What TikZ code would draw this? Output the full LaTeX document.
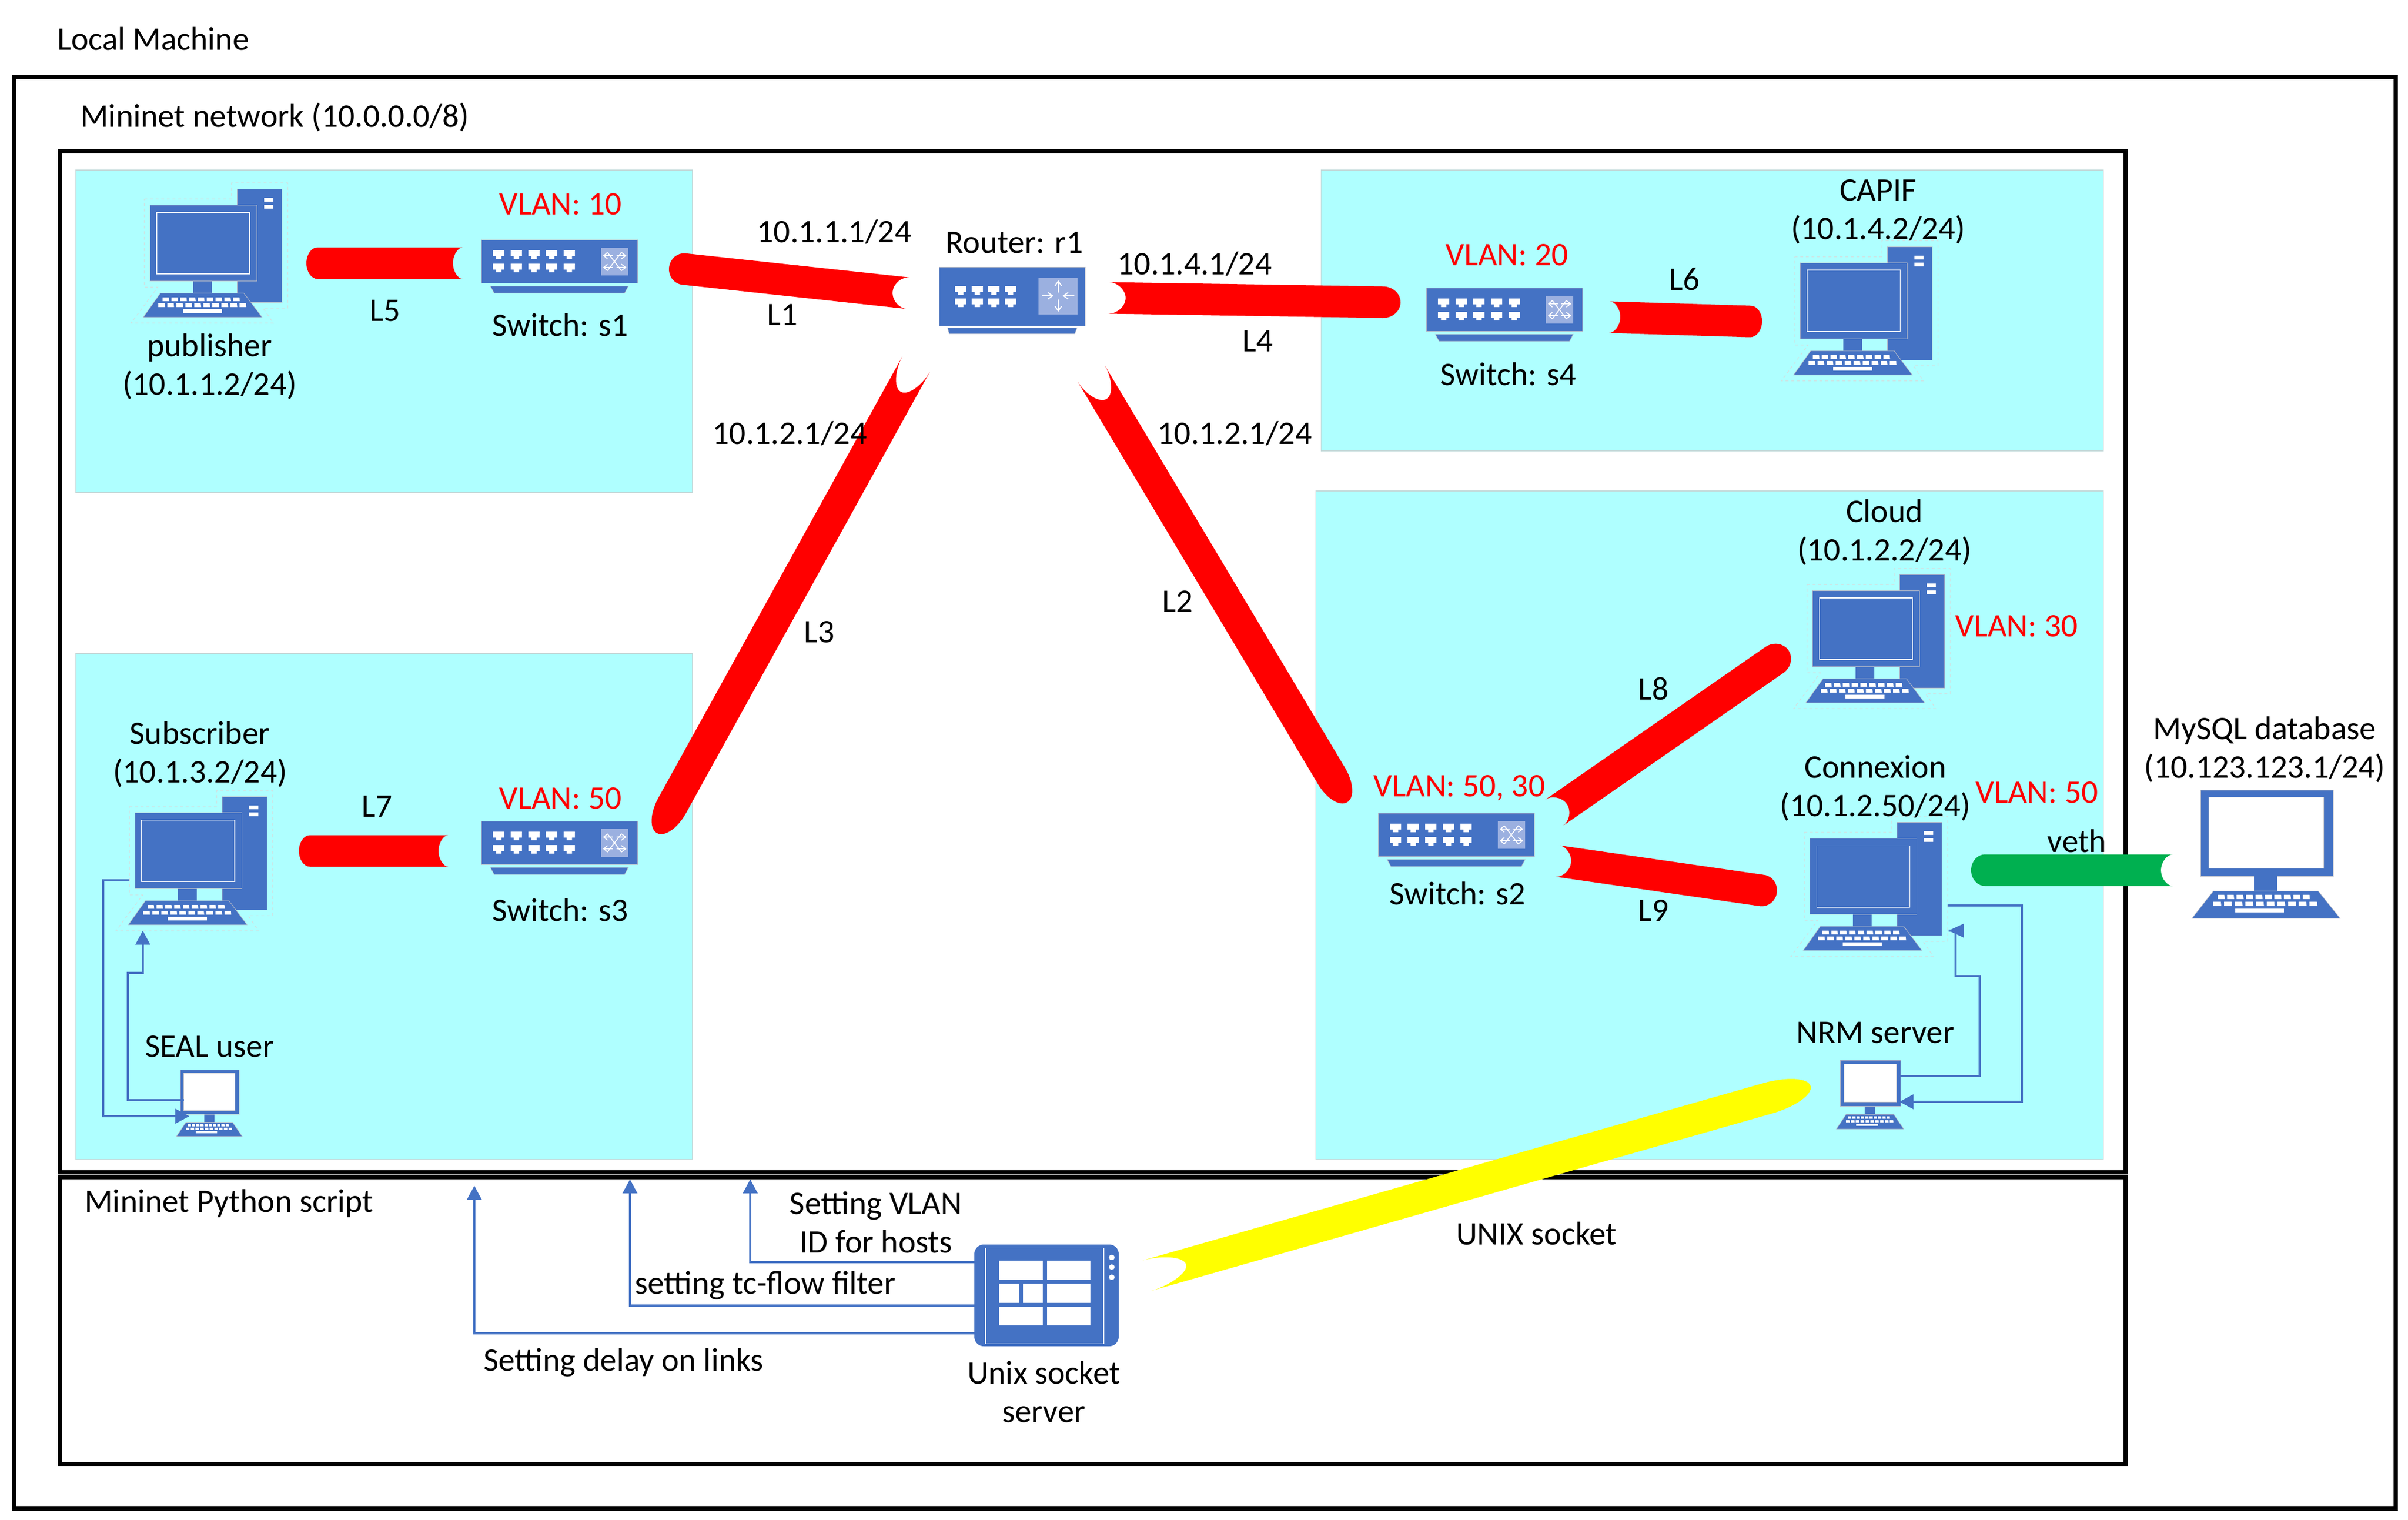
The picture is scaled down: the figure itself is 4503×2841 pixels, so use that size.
\documentclass[tikz,border=0pt]{standalone}
\usepackage{fontspec}
\setmainfont{Carlito}
\usetikzlibrary{arrows.meta,calc}
\definecolor{icon}{HTML}{4472C4}
\definecolor{panel}{HTML}{AFFFFF}
\definecolor{panelline}{HTML}{C4DADA}
\definecolor{iconline}{HTML}{B8BCC8}
\definecolor{sym}{HTML}{9BB0E0}
\definecolor{halo}{HTML}{D8DCDC}
\definecolor{pipered}{HTML}{FF0000}
\definecolor{pipegreen}{HTML}{00B050}
\definecolor{pipeyellow}{HTML}{FFFF00}
\tikzset{
  frame/.style={draw=black,line width=4.2pt},
  zone/.style={fill=panel,draw=panelline,line width=0.6pt},
  body/.style={fill=icon,draw=iconline,line width=0.5pt},
  wht/.style={fill=white},
  lbl/.style={font=\fontsize{35}{41}\selectfont,inner sep=0pt,align=center},
  one/.style={lbl,text height=25pt,text depth=4pt},
  vlan/.style={one,text=pipered},
  link/.style={draw=icon,line width=2.1pt,line join=miter},
  tip/.style={-{Triangle[length=15pt,width=15.5pt]}}
}
% pipe: rounded can from #1 (convex end) to #2 (open concave end)
\newcommand{\pipe}[5]{%
  \pgfpointdiff{\pgfpointanchor{#1}{center}}{\pgfpointanchor{#2}{center}}%
  \pgfgetlastxy{\pdx}{\pdy}%
  \pgfmathsetmacro\pang{atan2(\pdy,\pdx)}%
  \pgfmathsetmacro\plen{veclen(\pdx,\pdy)/0.569055}%
  \pgfmathsetmacro\pa{#3}\pgfmathsetmacro\pb{#4}%
  \pgfmathsetmacro\pak{\pa*0.5523}\pgfmathsetmacro\pbk{\plen-\pb*0.4477}\pgfmathsetmacro\pbe{\plen-\pb}%
  \begin{scope}[shift={(#1)},rotate=\pang]
    \fill[#5] (0,-29.5) .. controls (-\pak,-29.5) and (-\pa,-16.3) .. (-\pa,0)
      .. controls (-\pa,16.3) and (-\pak,29.5) .. (0,29.5)
      -- (\plen,29.5) .. controls (\pbk,29.5) and (\pbe,16.3) .. (\pbe,0)
      .. controls (\pbe,-16.3) and (\pbk,-29.5) .. (\plen,-29.5) -- cycle;
  \end{scope}}
\newcommand{\portrow}[3]{% count, y, pitch (origin x in \portx)
  \foreach \i in {1,...,#1}{
    \pgfmathsetmacro\xa{\portx+(\i-1)*#3}
    \fill[white] (\xa,#2) -- ++(21,0) -- ++(0,11) -- ++(-5.5,0) -- ++(0,5) -- ++(-10,0) -- ++(0,-5) -- ++(-5.5,0) -- cycle;
  }}
\newcommand{\switchicon}[2]{%
  \begin{scope}[shift={(#1,#2)}]
    \draw[body] (0,0) rectangle (292,81);
    \draw[body] (17,87) -- (275,87) -- (268,100) -- (24,100) -- cycle;
    \fill[sym] (224,15) rectangle (275,67);
    \def\portx{22}\portrow{5}{20}{33}\portrow{5}{45}{33}
    \draw[white,line width=1pt] (236,24) -- (262,58) (262,24) -- (236,58);
    \draw[white,line width=1pt] (236,24) -- (229,30) -- (236,36) (229,30) -- (246,30)
      (262,24) -- (270,30) -- (262,36) (270,30) -- (253,30)
      (236,46) -- (229,52) -- (236,58) (229,52) -- (246,52)
      (262,46) -- (270,52) -- (262,58) (270,52) -- (253,52);
  \end{scope}}
\newcommand{\routericon}[2]{%
  \begin{scope}[shift={(#1,#2)}]
    \draw[body] (0,0) rectangle (273,110);
    \draw[body] (16,114) -- (258,114) -- (254,125) -- (19,125) -- cycle;
    \fill[sym] (186,20) rectangle (259,89);
    \def\portx{30}\portrow{4}{36}{31}\portrow{4}{59}{31}
    \draw[white,line width=1.1pt,-{Straight Barb[length=5pt,width=7pt]}] (223,48) -- (223,25);
    \draw[white,line width=1.1pt,-{Straight Barb[length=5pt,width=7pt]}] (223,61) -- (223,84);
    \draw[white,line width=1.1pt,-{Straight Barb[length=5pt,width=7pt]}] (193,54) -- (214,54);
    \draw[white,line width=1.1pt,-{Straight Barb[length=5pt,width=7pt]}] (253,54) -- (231,54);
  \end{scope}}
\newcommand{\keys}[5]{% count, x0, x1, y0, h
  \pgfmathsetmacro\kw{(#3-#2)/#1*0.72}
  \foreach \i in {1,...,#1}{
    \pgfmathsetmacro\xa{#2+(\i-1)*(#3-#2)/(#1-0.28)}
    \fill[white] (\xa,#4) -- ++(\kw,0) -- ++(0.8,#5) -- ++(-\kw-0.8,0) -- cycle;
  }}
\newcommand{\towerpc}[2]{%
  \begin{scope}[shift={(#1,#2)}]
    \draw[halo,dashed,line width=0.6pt] (2,19) -- (165,19) -- (165,-11) -- (270,-11) -- (270,223) -- (224,223) -- (243,251) -- (-23,251) -- (27,184) -- (2,184) -- cycle;
    \draw[body] (175,0) rectangle (259,212);
    \fill[white] (226,17) rectangle (243,24) (226,30) rectangle (243,37);
    \fill[icon] (93,172) rectangle (128,196);
    \draw[body] (12,30) rectangle (212,172);
    \draw[white,line width=0.6pt] (25,44) rectangle (199,159);
    \draw[body] (32,195) -- (188,195) -- (222,240) -- (0,240) -- cycle;
    \keys{9}{36}{180}{203}{7}
    \keys{10}{28}{192}{214}{7}
    \fill[white] (74,225) rectangle (147,232);
  \end{scope}}
\newcommand{\screenpc}[4]{%
  \begin{scope}[shift={(#1,#2)},xscale=#3,yscale=#4]
    \draw[body] (16,0) rectangle (264,161);
    \draw[wht,draw=iconline,line width=0.4pt] (31,13) rectangle (246,146);
    \fill[icon] (116,161) rectangle (159,190);
    \draw[body] (40,189) -- (236,189) -- (277,240) -- (0,240) -- cycle;
    \keys{10}{48}{220}{196}{8}
    \keys{10}{40}{234}{209}{8}
    \fill[white] (81,222) rectangle (172,229);
  \end{scope}}
\begin{document}
\begin{tikzpicture}[x=0.02cm,y=-0.02cm]
\useasboundingbox (0,0) rectangle (4503,2841);
% frames
\draw[frame] (26,144) rectangle (4480,2821);
\draw[frame] (112,283) rectangle (3975,2192);
\draw[frame] (112,2201) rectangle (3975,2738);
% zones
\draw[zone] (142,318) rectangle (1295,921);
\draw[zone] (142,1222) rectangle (1295,2167);
\draw[zone] (2470,318) rectangle (3933,843);
\draw[zone] (2460,918) rectangle (3933,2167);
% link end points
\coordinate (l5a) at (594,492);  \coordinate (l5b) at (865,492);
\coordinate (l1a) at (1279,503); \coordinate (l1b) at (1697,548);
\coordinate (l4a) at (2586,565); \coordinate (l4b) at (2074,557);
\coordinate (l6a) at (3273,601); \coordinate (l6b) at (3010,593);
\coordinate (l7a) at (580,1591); \coordinate (l7b) at (838,1591);
\coordinate (l3a) at (1257,1506);\coordinate (l3b) at (1713,681);
\coordinate (l2a) at (2490,1451);\coordinate (l2b) at (2041,699);
\coordinate (l8a) at (3318,1234);\coordinate (l8b) at (2907,1519);
\coordinate (l9a) at (3295,1665);\coordinate (l9b) at (2913,1610);
\coordinate (vea) at (3712,1627);\coordinate (veb) at (4063,1627);
\coordinate (uxa) at (3304,2054);\coordinate (uxb) at (2145,2385);
% links
\pipe{l5a}{l5b}{21}{18}{pipered}
\pipe{l1a}{l1b}{28}{28}{pipered}
\pipe{l4a}{l4b}{33}{31}{pipered}
\pipe{l6a}{l6b}{22}{20}{pipered}
\pipe{l7a}{l7b}{21}{18}{pipered}
\pipe{l3a}{l3b}{59}{59}{pipered}
\pipe{l2a}{l2b}{57}{55}{pipered}
\pipe{l8a}{l8b}{32}{28}{pipered}
\pipe{l9a}{l9b}{28}{25}{pipered}
\pipe{vea}{veb}{26}{22}{pipegreen}
\pipe{uxa}{uxb}{85}{76}{pipeyellow}
% devices
\towerpc{268}{353}
\towerpc{240}{1489}
\towerpc{3354}{461}
\towerpc{3377}{1074}
\towerpc{3372}{1537}
\switchicon{900}{448}
\switchicon{900}{1535}
\switchicon{2667}{538}
\switchicon{2577}{1520}
\routericon{1756}{499}
\screenpc{4099}{1477}{1}{1}
\screenpc{330}{2000}{0.444}{0.52}
\screenpc{3434}{1982}{0.455}{0.5375}
% unix socket server
\fill[icon,rounded corners=10pt] (1822,2327) rectangle (2092,2517);
\draw[white,line width=0.6pt] (1843,2333) rectangle (2064,2512);
\fill[white] (1868,2357) rectangle (1950,2393) (1958,2357) rectangle (2039,2393)
  (1868,2400) rectangle (1906,2436) (1913,2400) rectangle (1950,2436) (1958,2400) rectangle (2039,2436)
  (1868,2443) rectangle (1950,2478) (1958,2443) rectangle (2039,2478);
\fill[white] (2079,2351) ellipse [x radius=5.5,y radius=5] (2079,2369) ellipse [x radius=5.5,y radius=5] (2079,2388) ellipse [x radius=5.5,y radius=5];
% connector anchors
\coordinate (subL) at (242,1646);
\coordinate (subB) at (267,1740);
\coordinate (sealL) at (344,2057);
\coordinate (sealA) at (354,2087);
\coordinate (conR) at (3642,1693);
\coordinate (conA) at (3644,1740);
\coordinate (nrmR) at (3547,2012);
\coordinate (nrmA) at (3552,2060);
\coordinate (srvA) at (1822,2360);
\coordinate (srvB) at (1822,2441);
\coordinate (srvC) at (1822,2493);
\coordinate (pyA) at (1403,2205);
\coordinate (pyB) at (1178,2205);
\coordinate (pyC) at (887,2217);
% connectors
\draw[link,tip] (subL) -| (193,2087) -- (sealA);
\draw[link,tip] (sealL) -| (239,1819) -| (subB);
\draw[link,tip] (conR) -| (3781,2060) -- (nrmA);
\draw[link] (nrmR) -| (3702,1825) -| (3657,1740) -- (conA);
\fill[icon] (conA) -- (3672,1727) -- (3672,1753) -- cycle;
\draw[link,tip] (srvA) -| (pyA);
\draw[link,tip] (srvB) -| (pyB);
\draw[link,tip] (srvC) -| (pyC);
% labels
\node[one,anchor=west] (tlocal) at (107,75) {Local Machine};
\node[one,anchor=west] (tmini) at (150,219) {Mininet network (10.0.0.0/8)};
\node[one,anchor=west] (tpy) at (158,2248) {Mininet Python script};
\node[vlan] (v1) at (1048,383) {VLAN: 10};
\node[lbl] (tpub) at (392,685) {publisher\\(10.1.1.2/24)};
\node[one] (t5) at (720,582) {L5};
\node[one] (ts1) at (1048,610) {Switch: s1};
\node[one] (ip1) at (1560,435) {10.1.1.1/24};
\node[one] (t1) at (1463,590) {L1};
\node[one] (tr1) at (1897,455) {Router: r1};
\node[one] (ip4) at (2234,495) {10.1.4.1/24};
\node[one] (t4) at (2352,639) {L4};
\node[vlan] (v2) at (2818,478) {VLAN: 20};
\node[one] (ts4) at (2821,702) {Switch: s4};
\node[one] (t6) at (3150,524) {L6};
\node[lbl] (tcap) at (3512,396) {CAPIF\\(10.1.4.2/24)};
\node[one] (ip2) at (1477,812) {10.1.2.1/24};
\node[one] (ip3) at (2309,812) {10.1.2.1/24};
\node[one] (t3) at (1532,1183) {L3};
\node[one] (t2) at (2202,1126) {L2};
\node[lbl] (tcl) at (3524,995) {Cloud\\(10.1.2.2/24)};
\node[vlan] (v3) at (3771,1172) {VLAN: 30};
\node[one] (t8) at (3092,1290) {L8};
\node[one] (t9) at (3092,1704) {L9};
\node[vlan] (v4) at (2729,1471) {VLAN: 50, 30};
\node[one] (ts2) at (2726,1673) {Switch: s2};
\node[lbl] (tcon) at (3507,1474) {Connexion\\(10.1.2.50/24)};
\node[vlan] (v5) at (3809,1483) {VLAN: 50};
\node[one] (tve) at (3884,1575) {veth};
\node[one] (tnrm) at (3507,1932) {NRM server};
\node[lbl] (tsql) at (4235,1401) {MySQL database\\(10.123.123.1/24)};
\node[lbl] (tsub) at (374,1410) {Subscriber\\(10.1.3.2/24)};
\node[vlan] (v6) at (1048,1494) {VLAN: 50};
\node[one] (t7) at (705,1509) {L7};
\node[one] (ts3) at (1048,1704) {Switch: s3};
\node[one] (tseal) at (392,1958) {SEAL user};
\node[lbl] (tvl) at (1638,2285) {Setting VLAN\\ID for hosts};
\node[one] (ttc) at (1431,2401) {setting tc-flow filter};
\node[one] (tdl) at (1166,2545) {Setting delay on links};
\node[lbl] (tux) at (1952,2602) {Unix socket\\server};
\node[one] (tus) at (2873,2309) {UNIX socket};
\end{tikzpicture}
\end{document}
